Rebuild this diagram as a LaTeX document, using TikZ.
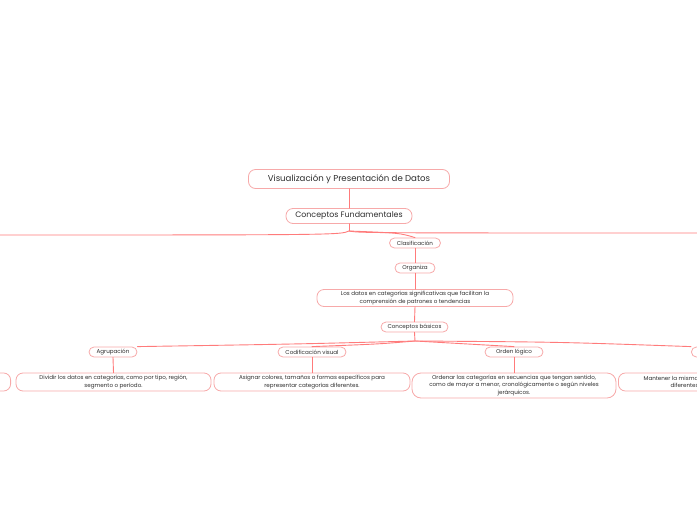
\documentclass[tikz,border=0pt]{standalone}
\usepackage{fontspec}
\setmainfont{Poppins}
\definecolor{boxline}{HTML}{F7A9A9}
\definecolor{conn}{HTML}{FF7B7B}
\definecolor{txt}{HTML}{2E2E2E}
\tikzset{
  mmbox/.style={draw=boxline, line width=0.8pt, rounded corners=7pt, fill=white, text=txt, align=center, inner sep=0pt},
  bigbox/.style={mmbox, font=\fontsize{8.6}{10}\selectfont},
  smallbox/.style={mmbox, font=\fontsize{5.6}{7.6}\selectfont, rounded corners=5pt},
  link/.style={draw=conn, line width=0.9pt, line cap=round},
}
\begin{document}
\begin{tikzpicture}[x=1pt,y=-1pt]
\useasboundingbox (0,0) rectangle (697,520);
\clip (0,0) rectangle (697,520);
% nodes
\node[bigbox, minimum width=201pt, minimum height=19pt] (title) at (349,179) {Visualización y Presentación de Datos};
\node[bigbox, minimum width=126pt, minimum height=15pt, font=\fontsize{7.9}{9}\selectfont] (cf) at (349,216) {Conceptos Fundamentales};
\node[smallbox, minimum width=51pt, minimum height=10pt] (clas) at (415,243) {Clasificación};
\node[smallbox, minimum width=40pt, minimum height=10pt] (org) at (415,268) {Organiza};
\node[smallbox, minimum width=196pt, minimum height=17pt, rounded corners=7pt] (datos) at (415,298) {Los datos en categorías significativas que facilitan la\\comprensión de patrones o tendencias};
\node[smallbox, minimum width=67pt, minimum height=10pt] (cb) at (414.5,327) {Conceptos básicos};
\node[smallbox, minimum width=48pt, minimum height=10pt] (agr) at (113,352) {Agrupación};
\node[smallbox, minimum width=68pt, minimum height=10pt] (cod) at (312,352) {Codificación visual};
\node[smallbox, minimum width=58pt, minimum height=10pt] (ord) at (514,352) {Orden lógico};
\node[smallbox, minimum width=40pt, minimum height=10pt, anchor=west] (cons) at (691,352) {};
\node[smallbox, minimum width=195pt, minimum height=18pt, rounded corners=7pt] (div) at (113.5,382) {Dividir los datos en categorías, como por tipo, región,\\segmento o período.};
\node[smallbox, minimum width=60pt, minimum height=18pt, rounded corners=7pt, anchor=east] (leftbox) at (11,382) {};
\node[smallbox, minimum width=196pt, minimum height=18pt, rounded corners=7pt] (asig) at (312,382) {Asignar colores, tamaños o formas específicos para\\representar categorías diferentes.};
\node[smallbox, minimum width=204pt, minimum height=25pt, rounded corners=9pt] (orden) at (514,385.5) {Ordenar las categorías en secuencias que tengan sentido,\\como de mayor a menor, cronológicamente o según niveles\\jerárquicos.};
\node[smallbox, minimum width=200pt, minimum height=18pt, rounded corners=7pt, anchor=west] (mant) at (618,382) {\hspace*{-24pt}Mantener la misma consistencia visual entre\\\hspace*{-24pt}diferentes visualizaciones};
% off-canvas ends
\coordinate (offL) at (-40,235);
\coordinate (offR) at (737,233);
\coordinate (hubA) at (349,231);
\coordinate (hubB) at (415,341);
% connectors
\draw[link] (title.south) -- (cf.north);
\draw[link] (cf.south) -- (hubA);
\draw[link] (hubA) .. controls (340,235) .. (offL);
\draw[link] (hubA) .. controls (360,233) .. (offR);
\draw[link] (hubA) .. controls (400,233) .. (clas.north);
\draw[link] (clas.south) -- (org.north);
\draw[link] (org.south) -- (datos.north);
\draw[link] (datos.south) -- (cb.north);
\draw[link] (cb.south) -- (hubB);
\draw[link] (hubB) .. controls (300,344) .. (agr.north east);
\draw[link] (hubB) .. controls (380,344) .. (cod.north);
\draw[link] (hubB) .. controls (450,343) .. (ord.north);
\draw[link] (hubB) .. controls (560,342) .. (cons.north west);
\draw[link] (agr.south) -- (div.north);
\draw[link] (cod.south) -- (asig.north);
\draw[link] (ord.south) -- (orden.north);
\end{tikzpicture}
\end{document}
